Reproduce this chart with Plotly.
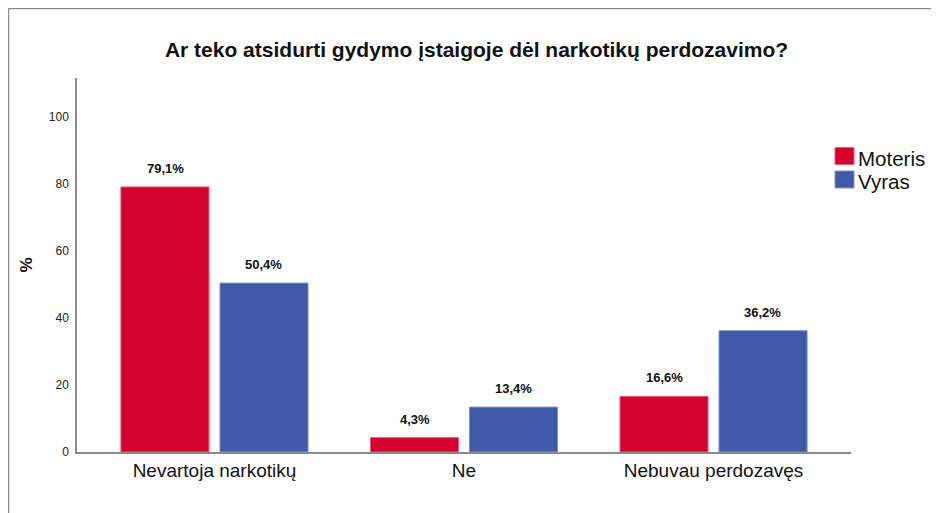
import plotly.graph_objects as go

categories = ["Nevartoja narkotikų", "Ne", "Nebuvau perdozavęs"]
series_names = ["Moteris", "Vyras"]
moteris = [79.1, 4.3, 16.6]
vyras = [50.4, 13.4, 36.2]
y_ticks = [0, 20, 40, 60, 80, 100]
title = "Ar teko atsidurti gydymo įstaigoje dėl narkotikų perdozavimo?"

colors = ["#D6002F", "#3E5AA8"]
edge = ["#E9607A", "#7F93CC"]
values = [moteris, vyras]

# page shows an 8px body margin, so the figure is shifted accordingly
S = 8
W, H = 939 - S, 513 - S
L, R, T, B = 77 - S, 88, 78 - S, 61
pw, ph = W - L - R, H - T - B

fig = go.Figure()
for i, (name, vals) in enumerate(zip(series_names, values)):
    fig.add_trace(go.Bar(
        x=categories, y=vals, name=name,
        marker=dict(color=colors[i], line=dict(color=edge[i], width=1)),
        showlegend=False, hoverinfo="skip",
    ))

# value labels
offset = 0.198
for i, vals in enumerate(values):
    for j, v in enumerate(vals):
        fig.add_annotation(
            x=j + (-offset if i == 0 else offset), y=v, xref="x", yref="y",
            text=f"{v:.1f}%".replace(".", ","), showarrow=False,
            yanchor="bottom", yshift=9,
            font=dict(family="Arial, Liberation Sans", size=13, color="#111111", weight="bold"),
        )

def px_x(p):
    return (p - S - L) / pw

def px_y(p):
    return (H - B - (p - S)) / ph

# custom legend
leg_items = [(147.5, 164.5, 158), (171, 188, 181)]
for i, name in enumerate(series_names):
    y0, y1, yc = leg_items[i]
    fig.add_shape(type="rect", xref="paper", yref="paper",
                  x0=px_x(835), x1=px_x(854), y0=px_y(y1), y1=px_y(y0),
                  fillcolor=colors[i], line=dict(color=edge[i], width=1))
    fig.add_annotation(xref="paper", yref="paper", x=px_x(856), y=px_y(yc),
                       text=name, showarrow=False, xanchor="left", yanchor="middle",
                       font=dict(family="Arial, Liberation Sans", size=20.5, color="#111111"))

# outer border (top and left)
fig.add_shape(type="line", xref="paper", yref="paper",
              x0=px_x(8.5), x1=px_x(945), y0=px_y(8.5), y1=px_y(8.5),
              line=dict(color="#8a8a8a", width=1.5))
fig.add_shape(type="line", xref="paper", yref="paper",
              x0=px_x(8.5), x1=px_x(8.5), y0=px_y(8.5), y1=px_y(520),
              line=dict(color="#8a8a8a", width=1.5))

fig.update_layout(
    width=W, height=H,
    margin=dict(l=L, r=R, t=T, b=B),
    paper_bgcolor="white", plot_bgcolor="white",
    barmode="group", bargap=0.206, bargroupgap=0.111,
    title=dict(text=title, x=(476.5 - S) / W, xanchor="center", y=1 - (50 - S) / H, yanchor="middle",
               font=dict(family="Arial, Liberation Sans", size=21, color="#111111", weight="bold")),
    font=dict(family="Arial, Liberation Sans", color="#111111"),
)
fig.update_xaxes(
    range=[-0.551, 2.551], showline=True, linecolor="#8a8a8a", linewidth=1.5,
    ticks="", showgrid=False, zeroline=False,
    tickfont=dict(size=19, color="#111111"),
)
fig.update_yaxes(
    range=[0, 111.6], tickvals=y_ticks, showline=True, linecolor="#8a8a8a", linewidth=1.5,
    ticks="", showgrid=False, zeroline=False, ticklabelstandoff=4,
    tickfont=dict(size=12, color="#222222"),
    title=dict(text="<b>%</b>", standoff=12, font=dict(size=17, color="#111111")),
)

fig.write_html("out.html")
